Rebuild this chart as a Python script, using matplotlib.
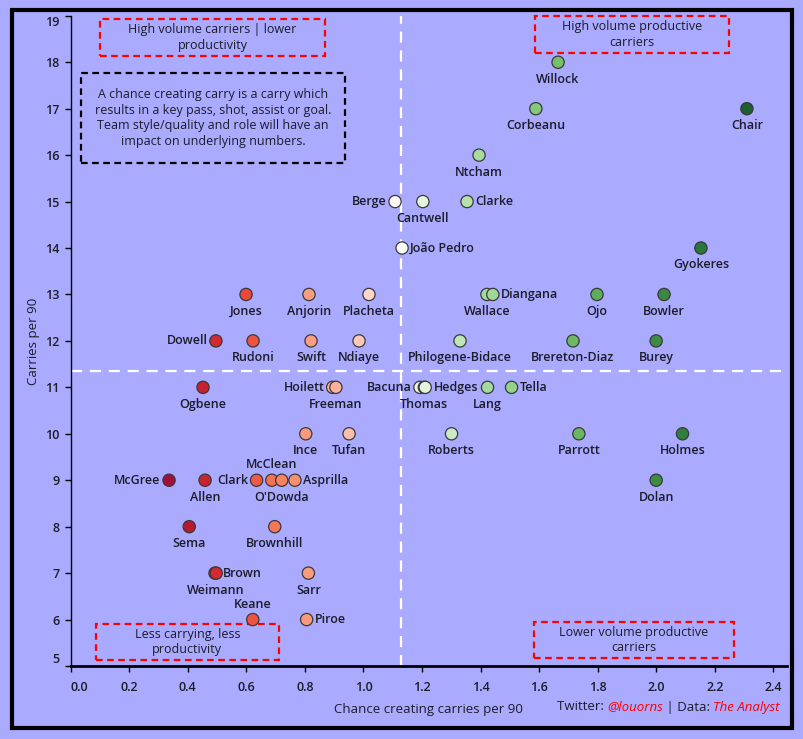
"""Chance creating carries vs carries per 90 - quadrant scatter"""

import matplotlib
matplotlib.use("Agg")
import matplotlib.pyplot as plt
import matplotlib.ticker as ticker
from matplotlib.colors import LinearSegmentedColormap, TwoSlopeNorm
from matplotlib.patches import Rectangle

# data
players = ["Willock", "Corbeanu", "Chair", "Ntcham", "Berge", "Cantwell", "Clarke",
           "João Pedro", "Gyokeres", "Jones", "Anjorin", "Placheta", "Wallace", "Diangana",
           "Ojo", "Bowler", "Dowell", "Rudoni", "Swift", "Ndiaye", "Philogene-Bidace",
           "Brereton-Diaz", "Burey", "Ogbene", "Hoilett", "Freeman", "Bacuna", "Thomas",
           "Hedges", "Lang", "Tella", "Ince", "Tufan", "Roberts", "Parrott", "Holmes",
           "McGree", "Allen", "Clark", "McClean", "O'Dowda", "Asprilla", "Dolan",
           "Sema", "Brownhill", "Brown", "Weimann", "Sarr", "Keane", "Piroe"]
chance_carries = [1.665, 1.589, 2.310, 1.395, 1.108, 1.203, 1.354,
                  1.132, 2.153, 0.599, 0.814, 1.019, 1.422, 1.442,
                  1.798, 2.027, 0.496, 0.623, 0.821, 0.985, 1.330,
                  1.716, 2.000, 0.452, 0.895, 0.906, 1.193, 1.208,
                  1.211, 1.424, 1.506, 0.803, 0.951, 1.301, 1.736, 2.090,
                  0.336, 0.459, 0.635, 0.687, 0.721, 0.766, 2.000,
                  0.405, 0.697, 0.493, 0.497, 0.812, 0.622, 0.806]
carries = [18, 17, 17, 16, 15, 15, 15,
           14, 14, 13, 13, 13, 13, 13,
           13, 13, 12, 12, 12, 12, 12,
           12, 12, 11, 11, 11, 11, 11,
           11, 11, 11, 10, 10, 10, 10, 10,
           9, 9, 9, 9, 9, 9, 9,
           8, 8, 7, 7, 7, 6, 6]

# where each name sits relative to its dot (default: below)
label_side = {"Berge": "left", "Clarke": "right", "João Pedro": "right", "Diangana": "right",
              "Dowell": "left", "Hoilett": "left", "Bacuna": "left", "Hedges": "right",
              "Tella": "right", "McGree": "left", "Clark": "left", "McClean": "above",
              "Asprilla": "right", "Brown": "right", "Keane": "above", "Piroe": "right"}

x_mid = 1.13
y_mid = 11.35

BG = "#aaaaff"
TXT = "#1c1c2a"

plt.rcParams["font.family"] = ["Open Sans", "DejaVu Sans"]

fig = plt.figure(figsize=(8.04, 7.39), dpi=100, facecolor=BG)
ax = fig.add_axes([70.7 / 804, 1 - 666 / 739, 716 / 804, (666 - 15.8) / 739])
ax.set_facecolor(BG)

# red -> white -> green, white at the vertical divider
red_half = [(0.0, "#a30f3c"), (0.09, "#b81a2e"), (0.2, "#d62a2f"), (0.34, "#ea4c3c"),
            (0.49, "#f8845f"), (0.6, "#fb9c7f"), (0.78, "#fdbfae"), (0.87, "#fdd7cd"),
            (1.0, "#ffffff")]
green_half = [(0.06, "#e5f5df"), (0.15, "#c7e9c0"), (0.22, "#a9dca0"), (0.45, "#77c269"),
              (0.74, "#3d8c45"), (0.85, "#2b7a3b"), (1.0, "#1b5e30")]
cmap = LinearSegmentedColormap.from_list(
    "rw_g", [(p * 0.5, c) for p, c in red_half] + [(0.5 + p * 0.5, c) for p, c in green_half])
norm = TwoSlopeNorm(vmin=min(chance_carries), vcenter=x_mid, vmax=max(chance_carries))

ax.axvline(x_mid, color="white", lw=1.6, ls=(0, (5, 3.5)), zorder=1)
ax.axhline(y_mid, color="white", lw=1.6, ls=(0, (5, 3.5)), zorder=1)

ax.scatter(chance_carries, carries, s=78, c=chance_carries, cmap=cmap, norm=norm,
           edgecolors="#3a3a3a", linewidths=0.9, zorder=3)

offsets = {"below": (0, -7.5, "center", "top"), "above": (0, 6.5, "center", "bottom"),
           "left": (-6, 0, "right", "center"), "right": (6, 0, "left", "center")}
for name, x, y in zip(players, chance_carries, carries):
    dx, dy, ha, va = offsets[label_side.get(name, "below")]
    ax.annotate(name, (x, y), xytext=(dx, dy), textcoords="offset points",
                ha=ha, va=va, fontsize=9, color=TXT, fontweight="semibold", zorder=4)

ax.set_xlim(0, 2.446)
ax.set_ylim(5, 19)
ax.xaxis.set_major_locator(ticker.MultipleLocator(0.2))
ax.xaxis.set_major_formatter(ticker.FormatStrFormatter("%.1f"))
ax.yaxis.set_major_locator(ticker.MultipleLocator(1))
ax.tick_params(axis="both", direction="out", length=4.5, width=1, colors="black",
               labelsize=9, labelcolor=TXT)
ax.tick_params(axis="x", pad=6)

for side in ["top", "right"]:
    ax.spines[side].set_visible(False)
ax.spines["left"].set_linewidth(1)
ax.spines["bottom"].set_linewidth(2)

ax.set_xlabel("Chance creating carries per 90", fontsize=9.5, color=TXT, labelpad=7)
ax.set_ylabel("Carries per 90", fontsize=9.5, color=TXT, labelpad=4)

# quadrant notes (data coords)
def note_box(x0, x1, y0, y1, text, color):
    ax.add_patch(Rectangle((x0, y0), x1 - x0, y1 - y0, fill=False, ec=color, lw=1.6,
                           ls=(0, (3, 2)), zorder=2, clip_on=False))
    ax.text((x0 + x1) / 2, (y0 + y1) / 2, text, ha="center", va="center", fontsize=9,
            color=TXT, linespacing=1.25, zorder=2)

note_box(0.100, 0.869, 18.14, 18.93, "High volume carriers | lower\nproductivity", "#ff0000")
note_box(1.586, 2.249, 18.20, 18.99, "High volume productive\ncarriers", "#ff0000")
note_box(0.035, 0.937, 15.83, 17.77,
         "A chance creating carry is a carry which\nresults in a key pass, shot, assist or goal.\n"
         "Team style/quality and role will have an\nimpact on underlying numbers.", "black")
note_box(0.086, 0.711, 5.13, 5.90, "Less carrying, less\nproductivity", "#ff0000")
note_box(1.583, 2.266, 5.17, 5.94, "Lower volume productive\ncarriers", "#ff0000")

# outer frame
fig.patches.append(Rectangle((12 / 804, 1 - 728 / 739), 780 / 804, 718 / 739, fill=False,
                             ec="black", lw=3, transform=fig.transFigure, figure=fig))

fig.canvas.draw()
renderer = fig.canvas.get_renderer()

# tick labels: semibold, end labels pulled inside the axes as in the original
for tick in ax.xaxis.get_major_ticks():
    tick.label1.set_fontweight("semibold")
    if abs(tick.get_loc()) < 1e-9:
        tick.label1.set_ha("left")
for tick in ax.yaxis.get_major_ticks():
    tick.label1.set_fontweight("semibold")
    if abs(tick.get_loc() - 5) < 1e-9:
        tick.label1.set_va("bottom")
    elif abs(tick.get_loc() - 19) < 1e-9:
        tick.label1.set_va("top")

# credit line, built right to left
parts = [("Twitter: ", TXT, "normal"), ("@louorns", "#ff0000", "italic"),
         (" | Data: ", TXT, "normal"), ("The Analyst", "#ff0000", "italic")]
x_right = 780
for txt, col, style in reversed(parts):
    t = fig.text(x_right / 804, 1 - 707 / 739, txt, ha="right", va="center", fontsize=9.5,
                 color=col, style=style)
    w = t.get_window_extent(renderer).width
    x_right -= w

fig.savefig("out.png", dpi=100, facecolor=BG)
